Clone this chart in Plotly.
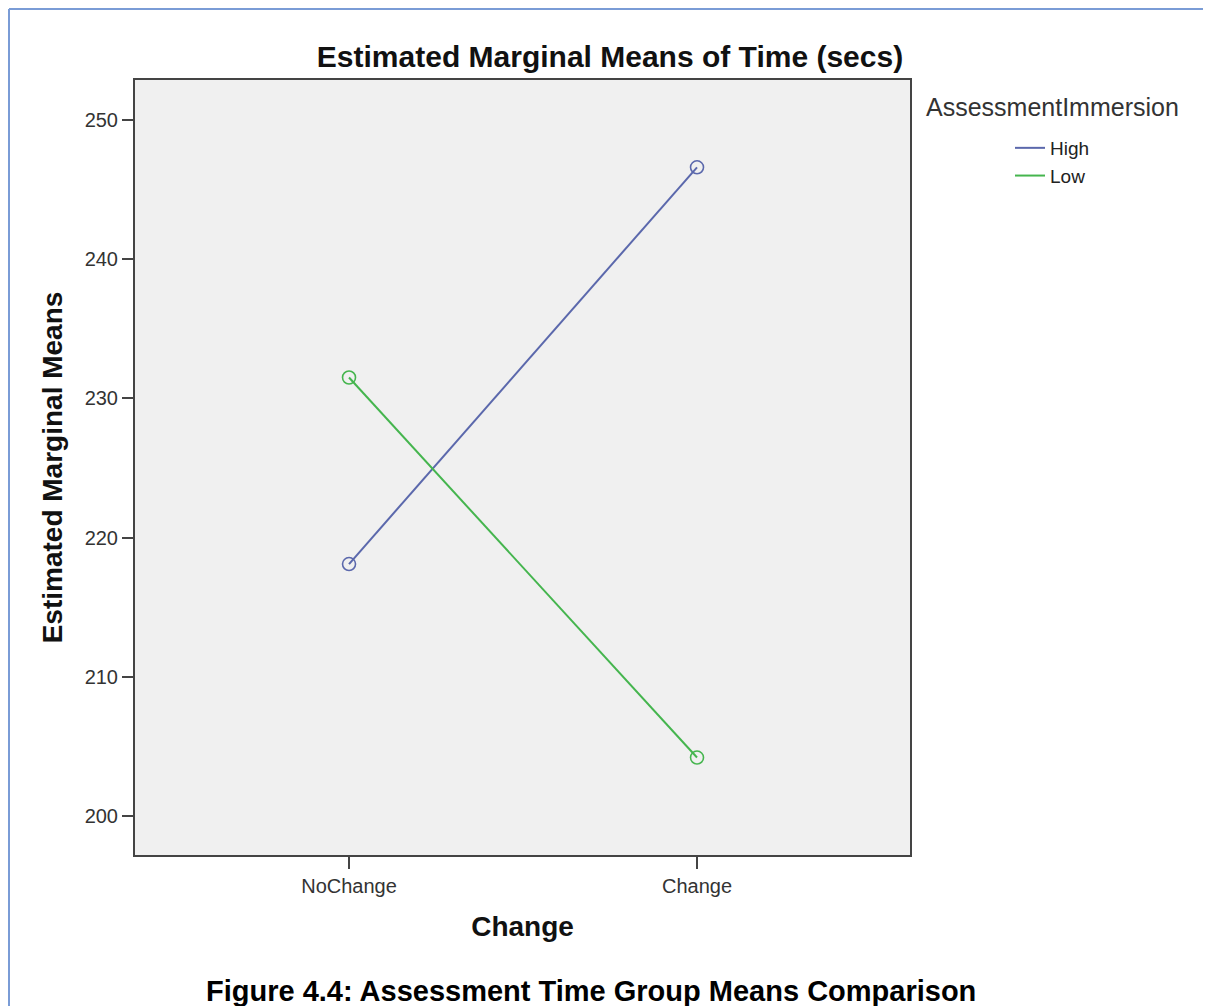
import plotly.graph_objects as go

categories = ["NoChange", "Change"]
high_values = [218.1, 246.6]
low_values = [231.5, 204.2]
series_names = ["High", "Low"]
y_ticks = [200, 210, 220, 230, 240, 250]

W, H = 1211, 1006
OFF = 8  # page body margin offset in the screenshot
L, R, T, B = 135, 910, 80, 855   # plot area in reference pixels
pw, ph = R - L, B - T

def px(x):
    return (x - L) / pw

def py(y):
    return (B - y) / ph

fig = go.Figure()
colors = ["#5B68AC", "#45B54E"]
for name, vals, c in zip(series_names, [high_values, low_values], colors):
    fig.add_trace(go.Scatter(
        x=[0, 1], y=vals, name=name, mode="lines+markers", showlegend=False,
        line=dict(color=c, width=2),
        marker=dict(symbol="circle-open", size=13, color=c, line=dict(width=1.6, color=c)),
    ))
for name, c in zip(series_names, colors):
    fig.add_trace(go.Scatter(
        x=[None], y=[None], name=name, mode="lines", showlegend=True,
        line=dict(color=c, width=2),
    ))

font_family = "Liberation Sans, Arial, sans-serif"

fig.update_layout(
    width=W, height=H,
    margin=dict(l=L - OFF, r=W - (R - OFF), t=T - OFF, b=H - (B - OFF)),
    paper_bgcolor="white",
    plot_bgcolor="#F0F0F0",
    font=dict(family=font_family, color="#222"),
    title=dict(text="<b>Estimated Marginal Means of Time (secs)</b>",
               font=dict(size=30, color="#111", family=font_family),
               x=(610 - OFF) / W, xref="container", xanchor="center",
               y=1 - (56 - OFF) / H, yref="container", yanchor="middle"),
    xaxis=dict(
        tickmode="array", tickvals=[0, 1], ticktext=categories,
        range=[-0.615, 1.612], showgrid=False, zeroline=False,
        showline=True, linecolor="#444", linewidth=2, mirror=True,
        ticks="outside", ticklen=12, tickwidth=2, tickcolor="#444",
        tickfont=dict(size=20, color="#333"),
        title=dict(text="<b>Change</b>", font=dict(size=28, color="#111"), standoff=20),
    ),
    yaxis=dict(
        tickmode="array", tickvals=y_ticks,
        range=[197.2, 252.87], showgrid=False, zeroline=False,
        showline=True, linecolor="#444", linewidth=2, mirror=True,
        ticks="outside", ticklen=11, tickwidth=2, tickcolor="#444",
        tickfont=dict(size=20, color="#333"),
        title=dict(text="<b>Estimated Marginal Means</b>", font=dict(size=28, color="#111"), standoff=14),
    ),
    showlegend=True,
    legend=dict(
        x=px(1010), xanchor="left", y=py(129), yanchor="top",
        font=dict(size=19, color="#222"), bgcolor="rgba(0,0,0,0)",
        tracegroupgap=0, itemwidth=30,
    ),
    annotations=[
        dict(text="AssessmentImmersion", xref="paper", yref="paper",
             x=px(924), y=py(107), xanchor="left", yanchor="middle",
             showarrow=False, font=dict(size=25, color="#333")),
        dict(text="<b>Figure 4.4: Assessment Time Group Means Comparison</b>",
             xref="paper", yref="paper", x=px(591), y=py(991),
             xanchor="center", yanchor="middle", showarrow=False,
             font=dict(size=29, color="#000")),
    ],
    shapes=[
        dict(type="line", xref="paper", yref="paper", x0=px(9), x1=px(1230), y0=py(9), y1=py(9),
             line=dict(color="#7A9CD6", width=2)),
        dict(type="line", xref="paper", yref="paper", x0=px(9), x1=px(9), y0=py(9), y1=py(1030),
             line=dict(color="#7A9CD6", width=2)),
    ],
)

fig.write_html("out.html")
